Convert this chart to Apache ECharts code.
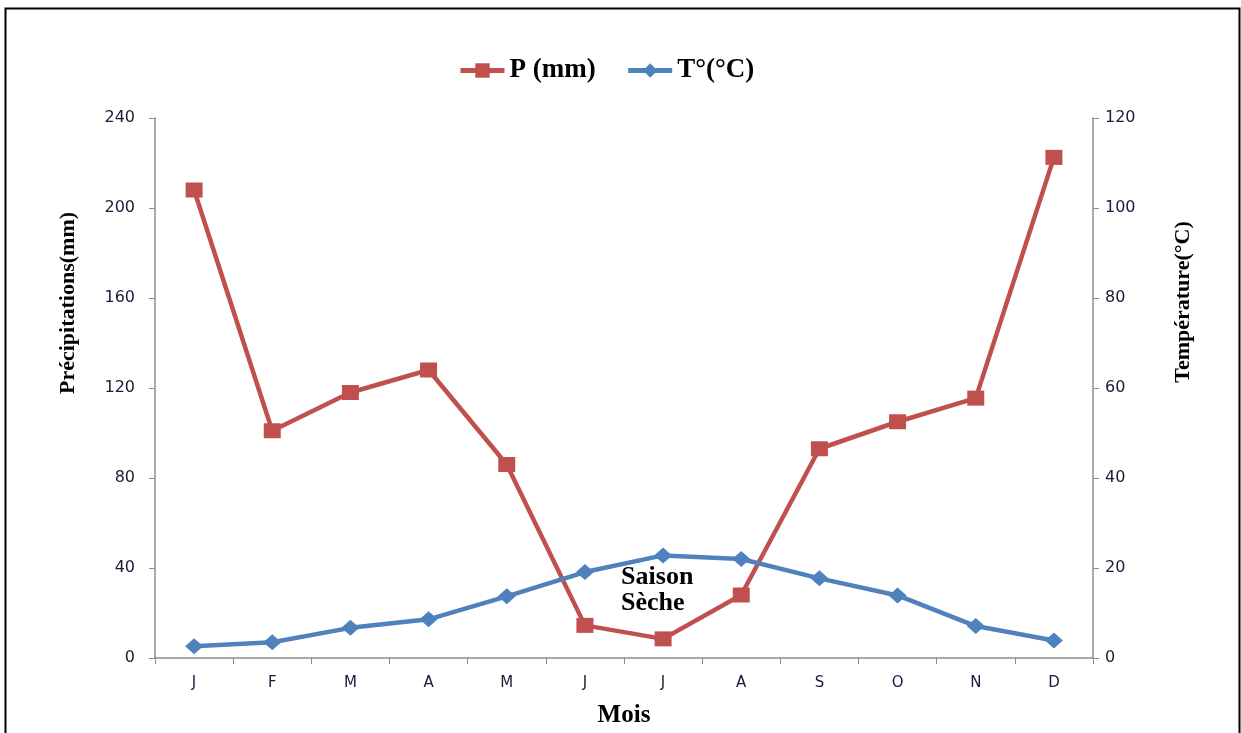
<!DOCTYPE html>
<html>
<head>
<meta charset="utf-8">
<script src="https://cdn.jsdelivr.net/npm/echarts@6/dist/echarts.min.js"></script>
<style>html,body{margin:0;padding:0;background:#fff;overflow:hidden;}#c{width:1241px;height:733px;}</style>
</head>
<body>
<div id="c"></div>
<script>
const months = ['J','F','M','A','M','J','J','A','S','O','N','D'];
const precip = [208, 101, 118, 128, 86, 14.5, 8.5, 28, 93, 105, 115.5, 222.5];
const temp = [2.6, 3.5, 6.7, 8.6, 13.7, 19.1, 22.8, 22.0, 17.7, 13.9, 7.1, 3.9];
const leftTicks = {min: 0, max: 240, interval: 40};
const rightTicks = {min: 0, max: 120, interval: 20};
const noteText = 'Saison\nSèche';
const notePos = [6, 15.7];

const chart = echarts.init(document.getElementById('c'), null, {renderer: 'canvas', width: 1241, height: 733});
const serif = '"Liberation Serif", "Times New Roman", serif';
const sans = '"DejaVu Sans", Lato, sans-serif';
const axisGray = '#8c8c8c';
const labelColor = '#1a1a3a';
const titleStyle = {fontFamily: serif, fontWeight: 'bold', fontSize: 22, fill: '#000', textAlign: 'center', textVerticalAlign: 'middle'};
chart.setOption({
  animation: false,
  backgroundColor: '#fff',
  graphic: [{
    type: 'rect', left: 3, top: 6, silent: true,
    shape: {width: 1234, height: 800},
    style: {fill: 'none', stroke: '#000', lineWidth: 2}
  }, {
    type: 'text', x: 68, y: 303, rotation: Math.PI / 2, silent: true,
    style: Object.assign({text: 'Précipitations(mm)'}, titleStyle)
  }, {
    type: 'text', x: 1183, y: 302, rotation: Math.PI / 2, silent: true,
    style: Object.assign({text: 'Température(°C)'}, titleStyle)
  }],
  legend: {
    top: 52, left: 453, itemGap: 30, itemWidth: 44, itemHeight: 18,
    lineStyle: {width: 5},
    textStyle: {fontFamily: serif, fontWeight: 'bold', fontSize: 27, color: '#000'},
    data: ['P (mm)', 'T°(°C)']
  },
  grid: {left: 155, right: 148, top: 118, height: 543, containLabel: false},
  xAxis: {
    type: 'category', data: months, boundaryGap: true,
    name: 'Mois', nameLocation: 'middle', nameGap: 45,
    nameTextStyle: {fontFamily: serif, fontWeight: 'bold', fontSize: 25, color: '#000'},
    axisLine: {lineStyle: {color: axisGray, width: 1.5}},
    axisTick: {show: true, length: 6, lineStyle: {color: axisGray}},
    axisLabel: {fontFamily: sans, fontSize: 15, color: labelColor, margin: 18},
    splitLine: {show: false}
  },
  yAxis: [{
    type: 'value', position: 'left', min: leftTicks.min, max: leftTicks.max, interval: leftTicks.interval,
    axisLine: {show: true, lineStyle: {color: axisGray, width: 1.5}},
    axisTick: {show: true, length: 6, lineStyle: {color: axisGray}},
    axisLabel: {fontFamily: sans, fontSize: 16, color: labelColor, margin: 20},
    splitLine: {show: false}
  }, {
    type: 'value', position: 'right', min: rightTicks.min, max: rightTicks.max, interval: rightTicks.interval,
    axisLine: {show: true, lineStyle: {color: axisGray, width: 1.5}},
    axisTick: {show: true, length: 6, lineStyle: {color: axisGray}},
    axisLabel: {fontFamily: sans, fontSize: 16, color: labelColor, margin: 12},
    splitLine: {show: false}
  }],
  series: [{
    name: 'P (mm)', type: 'line', yAxisIndex: 0, data: precip,
    symbol: 'rect', symbolSize: [17, 15], showAllSymbol: true,
    lineStyle: {color: '#C0504D', width: 4.5},
    itemStyle: {color: '#C0504D'}
  }, {
    name: 'T°(°C)', type: 'line', yAxisIndex: 1, data: temp,
    symbol: 'diamond', symbolSize: [18, 16], showAllSymbol: true,
    lineStyle: {color: '#4F81BD', width: 4.5},
    itemStyle: {color: '#4F81BD'},
    markPoint: {
      symbol: 'circle', symbolSize: 1, itemStyle: {color: 'rgba(0,0,0,0)'},
      data: [{coord: notePos, value: noteText}],
      label: {show: true, position: 'inside', formatter: noteText, offset: [-42, 3],
        fontFamily: serif, fontWeight: 'bold', fontSize: 26, color: '#000', lineHeight: 26, align: 'left'}
    }
  }]
});
</script>
</body>
</html>
